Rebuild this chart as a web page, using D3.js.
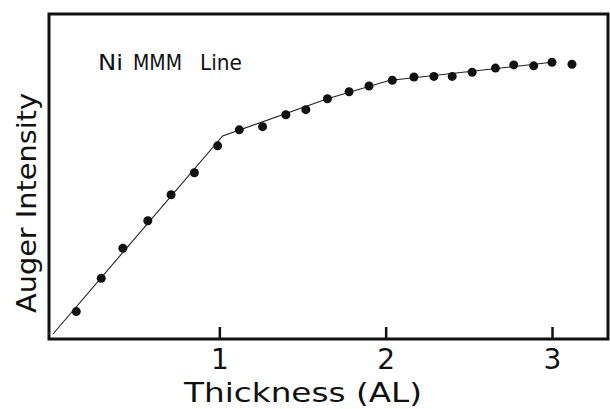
<!DOCTYPE html>
<html>
<head>
<meta charset="utf-8">
<script src="https://cdn.jsdelivr.net/npm/d3@7"></script>
<style>
  body { margin: 0; background: #fff; }
  text { font-family: "DejaVu Sans", sans-serif; fill: #111; }
</style>
</head>
<body>
<svg width="610" height="409"></svg>
<script>
// measured points (thickness in AL, intensity in arbitrary units)
const thickness = [0.14, 0.29, 0.42, 0.57, 0.71, 0.85, 0.99, 1.12, 1.26, 1.40, 1.52, 1.65,
  1.78, 1.90, 2.04, 2.17, 2.29, 2.40, 2.52, 2.66, 2.77, 2.89, 3.00, 3.12];
const intensity = [0.70, 1.74, 2.68, 3.54, 4.35, 5.04, 5.88, 6.38, 6.48, 6.85, 7.01, 7.35,
  7.57, 7.75, 7.93, 8.03, 8.05, 8.05, 8.18, 8.31, 8.41, 8.38, 8.49, 8.43];

// piecewise fit line
const fitX = [0, 1.02, 1.65, 2.02, 3.0];
const fitY = [0, 6.19, 7.35, 7.92, 8.49];

const xTicks = [1, 2, 3];

const svg = d3.select('svg');

const x = d3.scaleLinear().domain([0, 3]).range([53, 552]);
const y = d3.scaleLinear().domain([0, 10]).range([334, 14]);

// frame
svg.append('rect')
  .attr('x', 49)
  .attr('y', 14)
  .attr('width', 559)
  .attr('height', 325)
  .attr('fill', 'none')
  .attr('stroke', '#111')
  .attr('stroke-width', 3);

// x axis with inward ticks
const xAxis = svg.append('g')
  .attr('transform', 'translate(0,339)')
  .call(d3.axisBottom(x).tickValues(xTicks).tickSize(-12).tickFormat(d3.format('d')));

xAxis.select('.domain').remove();
xAxis.selectAll('.tick line')
  .attr('stroke', '#111')
  .attr('stroke-width', 2.5);
xAxis.selectAll('.tick text')
  .attr('y', 30)
  .attr('dy', null)
  .attr('font-size', 28)
  .attr('font-family', '"DejaVu Sans", sans-serif')
  .attr('fill', '#111');

// fit line
const line = d3.line()
  .x((d, i) => x(fitX[i]))
  .y((d, i) => y(fitY[i]));

svg.append('path')
  .attr('d', line(fitX))
  .attr('fill', 'none')
  .attr('stroke', '#222')
  .attr('stroke-width', 1.1);

// data points
svg.append('g')
  .selectAll('circle')
  .data(thickness)
  .join('circle')
    .attr('cx', d => x(d))
    .attr('cy', (d, i) => y(intensity[i]))
    .attr('r', 4.5)
    .attr('fill', '#111');

// labels
svg.append('text')
  .attr('x', 184)
  .attr('y', 402)
  .attr('font-size', 27)
  .attr('textLength', 238)
  .attr('lengthAdjust', 'spacingAndGlyphs')
  .text('Thickness (AL)');

svg.append('text')
  .attr('transform', 'translate(36,313) rotate(-90)')
  .attr('font-size', 27)
  .attr('textLength', 220)
  .attr('lengthAdjust', 'spacingAndGlyphs')
  .text('Auger Intensity');

const note = svg.append('text')
  .attr('y', 70)
  .attr('font-size', 22);
note.append('tspan').attr('x', 98).attr('textLength', 25).attr('lengthAdjust', 'spacingAndGlyphs').text('Ni');
note.append('tspan').attr('x', 133).attr('textLength', 49).attr('lengthAdjust', 'spacingAndGlyphs').text('MMM');
note.append('tspan').attr('x', 200).attr('textLength', 42).attr('lengthAdjust', 'spacingAndGlyphs').text('Line');
</script>
</body>
</html>
